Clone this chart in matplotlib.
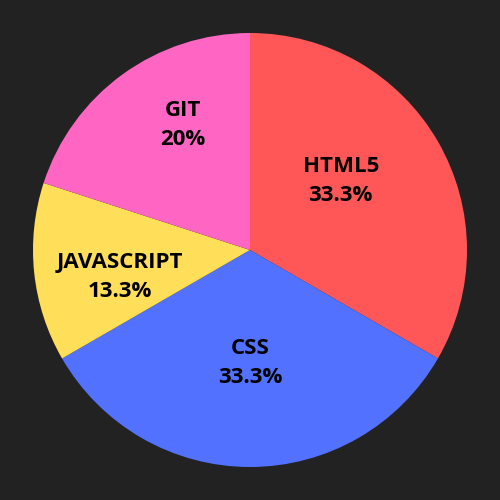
import matplotlib
matplotlib.use("Agg")
import matplotlib.pyplot as plt

categories = ["HTML5", "CSS", "JAVASCRIPT", "GIT"]
values = [5, 5, 2, 3]
pct_labels = ["33.3%", "33.3%", "13.3%", "20%"]
colors = ["#ff5757", "#5271ff", "#ffde59", "#ff66c4"]
# label centre positions in pie-radius units
label_pos = [(0.418, 0.318), (0.0, -0.521), (-0.599, -0.124), (-0.309, 0.576)]

bg = "#222222"
fig = plt.figure(figsize=(5, 5), dpi=100, facecolor=bg)
ax = fig.add_axes([0, 0, 1, 1])
ax.set_facecolor(bg)
ax.pie(values, colors=colors, startangle=90, counterclock=False,
       radius=1.0, wedgeprops=dict(linewidth=0))
lim = 250 / 217
ax.set_xlim(-lim, lim)
ax.set_ylim(-lim, lim)
ax.set_aspect("equal")
ax.axis("off")

for cat, pct, (x, y) in zip(categories, pct_labels, label_pos):
    ax.text(x, y, f"{cat}\n{pct}", ha="center", va="center",
            fontsize=16, fontweight="bold", family=["Open Sans", "DejaVu Sans"],
            color="black", linespacing=1.55)

fig.savefig("out.png", dpi=100, facecolor=bg)
